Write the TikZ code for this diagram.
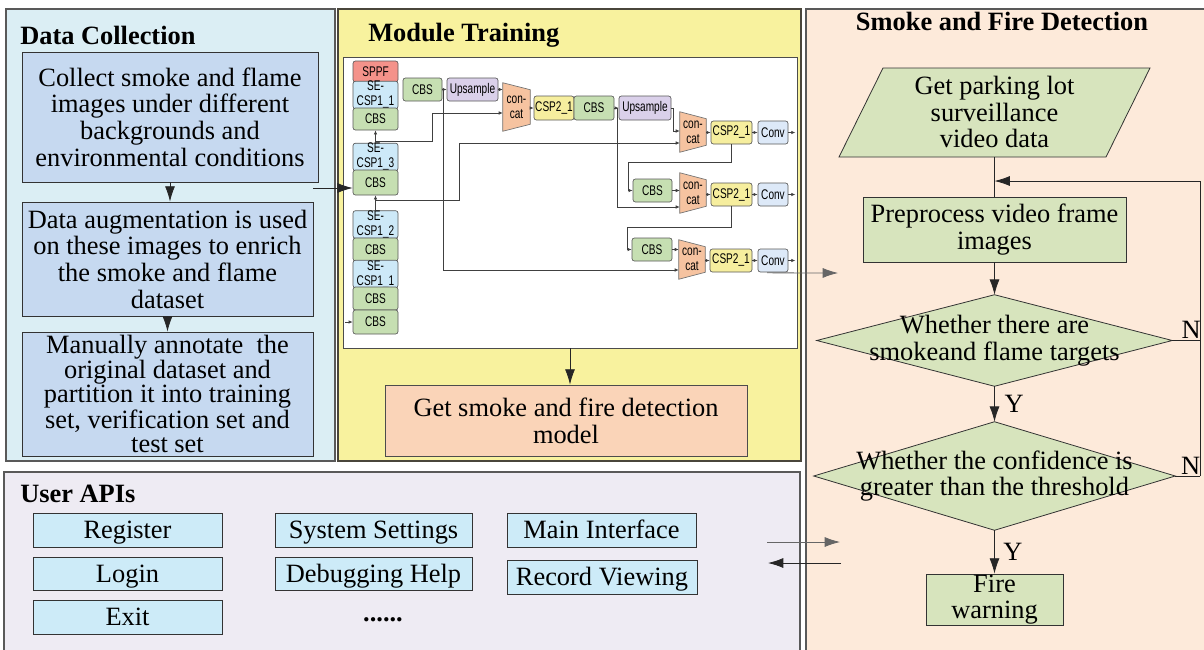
\documentclass[tikz,border=0pt]{standalone}
\usepackage{fontspec}
\setmainfont{Liberation Serif}
\newfontfamily\modfont[FakeStretch=0.72]{Liberation Sans}
\usetikzlibrary{arrows.meta,calc}
\pgfdeclarelayer{bg}\pgfdeclarelayer{mid}\pgfsetlayers{bg,mid,main}
\definecolor{pdc}{HTML}{DBEEF4}
\definecolor{pdb}{HTML}{C6D9F0}
\definecolor{pyl}{HTML}{F8F29E}
\definecolor{pdt}{HTML}{FDEADA}
\definecolor{pap}{HTML}{EEEBF3}
\definecolor{pbt}{HTML}{CDEBF8}
\definecolor{pgr}{HTML}{D7E4BD}
\definecolor{pmd}{HTML}{FAD4B8}
\definecolor{csppf}{HTML}{F4928A}
\definecolor{cse}{HTML}{CDE9F8}
\definecolor{ccbs}{HTML}{C6DFB2}
\definecolor{cups}{HTML}{DAD0EA}
\definecolor{ccat}{HTML}{F6C3A0}
\definecolor{ccsp}{HTML}{F6EE9E}
\definecolor{cconv}{HTML}{DDE9F8}
\begin{document}
\begin{tikzpicture}[x=0.75pt,y=-0.75pt,
  font=\fontsize{19.8}{20}\selectfont,
  sz/.style 2 args={minimum width=#1*0.75pt, minimum height=#2*0.75pt},
  panel/.style={draw=black!65, line width=0.8pt},
  dbox/.style={draw=black!80, fill=pdb, inner sep=0pt, align=center, line width=0.6pt},
  gbox/.style={draw=black!80, fill=pgr, inner sep=0pt, align=center, line width=0.6pt},
  txt/.style={inner sep=0pt, align=center},
  api/.style={draw=black!80, fill=pbt, inner sep=0pt, line width=0.6pt, text height=13pt, text depth=0pt},
  ttl/.style={inner sep=0pt, font=\fontsize{19.8}{20}\selectfont\bfseries},
  mnode/.style={draw=black!65, rounded corners=1.8pt, inner sep=0pt, align=center,
     font=\modfont\fontsize{10.5}{11.25}\selectfont, line width=0.5pt},
  tnode/.style={inner sep=0pt, align=center, font=\modfont\fontsize{10.5}{11.25}\selectfont},
  marr/.style={-{Latex[length=3pt,width=2.6pt]}, line width=0.5pt, draw=black!75},
  bigarr/.style={-{Latex[length=11.5pt,width=7.5pt]}, line width=0.6pt, draw=black!85},
  pline/.style={line width=0.6pt, draw=black!85}]
\useasboundingbox (0,0) rectangle (1204,650);

% ---------- panels ----------
\begin{pgfonlayer}{bg}
\filldraw[panel, fill=pdc] (6,9) rectangle (335,461);
\filldraw[panel, fill=pyl, draw=black!70!yellow!60!black] (338,9) rectangle (801,461);
\fill[pdt] (806,9) rectangle (1204,650);
\draw[panel] (1204,9) -- (806,9) -- (806,650);
\fill[pap] (4,472) rectangle (800,650);
\draw[panel] (4,650) -- (4,472) -- (800,472) -- (800,650);
\node[draw=black!70, fill=white, sz={454}{291}, line width=0.6pt] (wb) at (570,202.5) {};
\end{pgfonlayer}

% ---------- titles ----------
\node[ttl, anchor=west] (t1) at (20,35) {Data Collection};
\node[ttl, anchor=west] (t2) at (368,35) {Module Training};
\node[ttl] (t3) at (1002,21) {Smoke and Fire Detection};
\node[ttl, anchor=west] (t4) at (20,494) {User APIs};

% ---------- data collection ----------
\node[dbox, sz={296}{130}] (b1) at (170,117) {Collect smoke and flame\\images under different\\backgrounds and\\environmental conditions};
\node[dbox, sz={291}{114}] (b2) at (167.5,259) {Data augmentation is used\\on these images to enrich\\the smoke and flame\\dataset};
\node[dbox, sz={291}{124}, font=\fontsize{19.8}{18}\selectfont] (b3) at (167.5,394) {Manually annotate~ the\\original dataset and\\partition it into training\\set, verification set and\\test set};
\draw[bigarr] (b1.south) -- (b1.south |- b2.north);
\draw[bigarr] (b2.south) -- (b2.south |- b3.north);

% ---------- module training: backbone ----------
\node[mnode, sz={45}{21}, fill=csppf] (sppf) at (375.5,71.5) {SPPF};
\node[mnode, sz={45}{26}, fill=cse] (se1) at (375.5,95) {SE-\\CSP1\_1};
\node[mnode, sz={45}{22}, fill=ccbs] (cbsa) at (375.5,119) {CBS};
\node[mnode, sz={45}{26}, fill=cse] (se3) at (375.5,157) {SE-\\CSP1\_3};
\node[mnode, sz={45}{25}, fill=ccbs] (cbsb) at (375.5,182.5) {CBS};
\node[mnode, sz={45}{27}, fill=cse] (se2) at (375.5,224.5) {SE-\\CSP1\_2};
\node[mnode, sz={45}{23}, fill=ccbs] (cbsc) at (375.5,249.5) {CBS};
\node[mnode, sz={45}{26}, fill=cse] (se1b) at (375.5,274) {SE-\\CSP1\_1};
\node[mnode, sz={45}{23}, fill=ccbs] (cbsd) at (375.5,298.5) {CBS};
\node[mnode, sz={45}{24}, fill=ccbs] (cbse) at (375.5,322) {CBS};

% ---------- module training: neck/head ----------
\node[mnode, sz={39}{23}, fill=ccbs] (cbst) at (422.5,89.5) {CBS};
\node[mnode, sz={51}{23}, fill=cups] (ups1) at (472.5,89.5) {Upsample};
\node[tnode, sz={27}{48}] (c1) at (516.5,107) {con-\\cat};
\node[mnode, sz={40}{24}, fill=ccsp] (csp2a) at (554,108) {CSP2\_1};
\node[mnode, sz={40}{24}, fill=ccbs] (cbsf) at (594,108) {CBS};
\node[mnode, sz={52}{24}, fill=cups] (ups2) at (645,108) {Upsample};
\node[tnode, sz={26}{40}] (c2) at (693,132) {con-\\cat};
\node[mnode, sz={41}{23}, fill=ccsp] (csp2b) at (731.5,132.5) {CSP2\_1};
\node[mnode, sz={30}{23}, fill=cconv] (convb) at (773,132.5) {Conv};
\node[mnode, sz={39}{23}, fill=ccbs] (cbsg) at (652.5,190.5) {CBS};
\node[tnode, sz={26}{40}] (c3) at (693,193) {con-\\cat};
\node[mnode, sz={41}{23}, fill=ccsp] (csp2c) at (731.5,194.5) {CSP2\_1};
\node[mnode, sz={30}{23}, fill=cconv] (convc) at (773,194.5) {Conv};
\node[mnode, sz={40}{23}, fill=ccbs] (cbsh) at (652,249.5) {CBS};
\node[tnode, sz={26}{39}] (c4) at (692,259.5) {con-\\cat};
\node[mnode, sz={42}{23}, fill=ccsp] (csp2d) at (731,260.5) {CSP2\_1};
\node[mnode, sz={30}{23}, fill=cconv] (convd) at (773,260.5) {Conv};

\begin{pgfonlayer}{mid}
\foreach \c in {c1,c2,c3,c4}
  \filldraw[fill=ccat, draw=black!55, line width=0.5pt]
    (\c.north west) -- ($(\c.north east)+(0,7)$) -- ($(\c.south east)+(0,-7)$) -- (\c.south west) -- cycle;
\end{pgfonlayer}

% module connectors
\coordinate (k1) at (432,113);
\coordinate (k2) at (459,143);
\coordinate (k3) at (443,270);
\coordinate (k4) at (617,207);
\coordinate (k5) at (673,131);
\coordinate (k6) at (628,162);
\coordinate (k7) at (627,227);
\coordinate (in0) at (345,322);
\draw[marr] (se3.north) -- (cbsa.south);
\draw[marr] (se2.north) -- (cbsb.south);
\draw[marr] ($(se3.north)+(0,-2)$) -| (k1) -- (k1 -| c1.west);
\draw[marr] ($(se2.north)+(0,-10)$) -| (k2) -- (k2 -| c2.west);
\draw[marr] (cbst) -- (ups1);
\draw[marr] (cbst.east) -| (k3) -- (k3 -| c4.west);
\draw[marr] (ups1.east) -- (ups1.east -| c1.west);
\draw[marr] (c1.east |- csp2a.west) -- (csp2a.west);
\draw[marr] (cbsf) -- (ups2);
\draw[marr] (cbsf.east) -| (k4) -- (k4 -| c3.west);
\draw[marr] (ups2.east) -| (k5) -- (k5 -| c2.west);
\draw[marr] (c2.east |- csp2b.west) -- (csp2b.west);
\draw[marr] (csp2b) -- (convb);
\draw[marr] (convb.east) -- ++(7,0);
\draw[marr] (csp2b.south) |- (k6) |- (cbsg.west);
\draw[marr] (cbsg.east) -- (cbsg.east -| c3.west);
\draw[marr] (c3.east |- csp2c.west) -- (csp2c.west);
\draw[marr] (csp2c) -- (convc);
\draw[marr] (convc.east) -- ++(7,0);
\draw[marr] (csp2c.south) |- (k7) |- (cbsh.west);
\draw[marr] (cbsh.east) -- (cbsh.east -| c4.west);
\draw[marr] (c4.east |- csp2d.west) -- (csp2d.west);
\draw[marr] (csp2d) -- (convd);
\draw[marr] (convd.east) -- ++(7,0);
\draw[marr] (in0) -- (cbse.west);

\coordinate (dc) at (313,188);
\draw[bigarr] (dc) -- (dc -| cbsb.west);
\coordinate (o4) at (838,273);
\draw[bigarr, draw=black!60] ($(convd.south)+(-6,0.5)$) -- (o4);

\node[draw=black!70, fill=pmd, inner sep=0pt, align=center, line width=0.6pt, sz={362}{71}] (mdl) at (566,420.5) {Get smoke and fire detection\\model};
\draw[bigarr] (wb.south) -- (wb.south |- mdl.north);

% ---------- detection ----------
\node[txt, sz={267}{89}] (par) at (994.5,112) {Get parking lot\\surveillance\\video data};
\node[gbox, sz={263}{65}] (pre) at (994.5,229.5) {Preprocess video frame\\images};
\node[txt, sz={355}{91}] (d1) at (994.5,340.5) {Whether there are\\smokeand flame targets};
\node[txt, sz={361}{108}] (d2) at (994.5,476) {Whether the confidence is\\greater than the threshold};
\node[gbox, sz={137}{51}, font=\fontsize{19.8}{19}\selectfont] (warn) at (994.5,599.5) {Fire\\warning};
\begin{pgfonlayer}{mid}
\filldraw[fill=pgr, draw=black!80, line width=0.6pt] (883,68) -- (1150,68) -- (1106,157) -- (839,157) -- cycle;
\filldraw[fill=pgr, draw=black!80, line width=0.6pt] (d1.north) -- (d1.east) -- (d1.south) -- (d1.west) -- cycle;
\filldraw[fill=pgr, draw=black!80, line width=0.6pt] (d2.north) -- (d2.east) -- (d2.south) -- (d2.west) -- cycle;
\end{pgfonlayer}
\coordinate (lp) at (1200,181);
\draw[pline] (par.south) -- (pre.north);
\draw[bigarr] (pre.south) -- (d1.north);
\draw[bigarr] (d1.south) -- node[anchor=west, xshift=4pt] {Y} (d2.north);
\draw[bigarr] (d2.south) -- node[anchor=west, xshift=3pt] {Y} (warn.north);
\draw[pline] (d1.east) -- node[above, pos=0.68, inner sep=1pt] {N} (d1.east -| lp);
\draw[pline] (d2.east) -- node[above, pos=0.62, inner sep=1pt] {N} (d2.east -| lp);
\draw[bigarr] (d2.east -| lp) -- (lp) -- (lp -| par.south);

% ---------- user APIs ----------
\node[api, sz={189}{34}] (reg) at (127.5,530) {Register};
\node[api, sz={189}{33}] (log) at (127.5,573.5) {Login};
\node[api, sz={189}{34}] (ext) at (127.5,617) {Exit};
\node[api, sz={197}{34}] (sys) at (373.5,530) {System Settings};
\node[api, sz={197}{33}] (dbg) at (373.5,573.5) {Debugging Help};
\node[api, sz={189}{34}] (mi) at (601.5,530) {Main Interface};
\node[api, sz={190}{34}] (rv) at (602,577) {Record Viewing};
\node[txt, font=\fontsize{19.8}{20}\selectfont\bfseries] (dots) at (383,620) {......};

\coordinate (a1) at (767,542);
\coordinate (a2) at (840,542);
\coordinate (a3) at (841,563);
\coordinate (a4) at (768,563);
\draw[bigarr, draw=black!60] (a1) -- (a2);
\draw[bigarr] (a3) -- (a4);
\end{tikzpicture}
\end{document}
